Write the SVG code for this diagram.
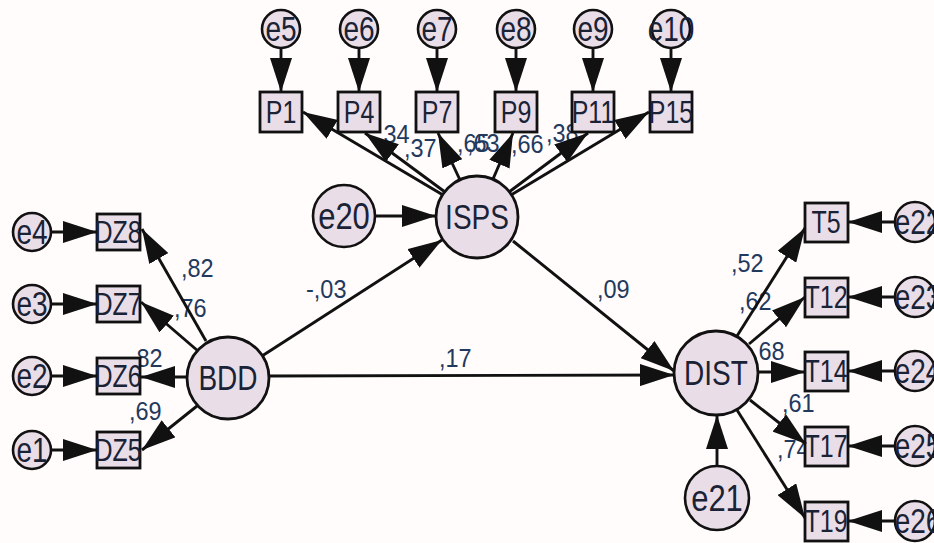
<svg xmlns="http://www.w3.org/2000/svg" width="934" height="543" viewBox="0 0 934 543">
  <style>
    .bg { fill: #fffcfb; }
    .lat { fill: #e9dde8; stroke: #111; stroke-width: 2.8; }
    .obs { fill: #e9dde8; stroke: #111; stroke-width: 2.8; }
    .err { fill: #e9dde8; stroke: #111; stroke-width: 2.6; }
    .path { fill: none; stroke: #111; stroke-width: 2.9; marker-end: url(#head); }
    text { font-family: "Liberation Sans", Arial, sans-serif; text-anchor: middle; fill: #1a2236; }
    .tl { font-size: 28px; }
    .to { font-size: 25px; }
    .te { font-size: 28px; }
    .tE { font-size: 31px; }
    .coef { font-size: 23.5px; text-anchor: start; fill: #22395e; }
  </style>
  <defs>
    <marker id="head" markerUnits="userSpaceOnUse" markerWidth="34" markerHeight="22" refX="34" refY="11" orient="auto">
      <path d="M0,0 L34,11 L0,22 z" fill="#111"/>
    </marker>
  </defs>

  <rect class="bg" x="0" y="0" width="934" height="543"/>

  <!-- standardized coefficients (text is drawn slightly tall) -->
  <g id="coefficients">
    <text class="coef" transform="translate(181 277) scale(1 1.12)">,82</text>
    <text class="coef" transform="translate(174 317) scale(1 1.12)">,76</text>
    <text class="coef" transform="translate(130 367) scale(1 1.12)">,82</text>
    <text class="coef" transform="translate(129 420) scale(1 1.12)">,69</text>
    <text class="coef" transform="translate(306 298) scale(1 1.12)">-,03</text>
    <text class="coef" transform="translate(597 298) scale(1 1.12)">,09</text>
    <text class="coef" transform="translate(439 367) scale(1 1.12)">,17</text>
    <text class="coef" transform="translate(377 143) scale(1 1.12)">,34</text>
    <text class="coef" transform="translate(404 157) scale(1 1.12)">,37</text>
    <text class="coef" transform="translate(457 152) scale(1 1.12)">,65</text>
    <text class="coef" transform="translate(467 152) scale(1 1.12)">,63</text>
    <text class="coef" transform="translate(511 153) scale(1 1.12)">,66</text>
    <text class="coef" transform="translate(546 142) scale(1 1.12)">,38</text>
    <text class="coef" transform="translate(731 272) scale(1 1.12)">,52</text>
    <text class="coef" transform="translate(739 310) scale(1 1.12)">,62</text>
    <text class="coef" transform="translate(752 360) scale(1 1.12)">,68</text>
    <text class="coef" transform="translate(782 412) scale(1 1.12)">,61</text>
    <text class="coef" transform="translate(777 458) scale(1 1.12)">,74</text>
  </g>

  <!-- latent variables -->
  <g id="ISPS"><circle class="lat" cx="477" cy="217" r="41"/><text class="tl" transform="translate(477 229) scale(1 1.22)">ISPS</text></g>
  <g id="BDD"><circle class="lat" cx="228" cy="378" r="41"/><text class="tl" transform="translate(228 390) scale(1 1.22)">BDD</text></g>
  <g id="DIST"><circle class="lat" cx="716" cy="373" r="42"/><text class="tl" transform="translate(716 385) scale(1 1.22)">DIST</text></g>

  <!-- disturbances -->
  <g id="e20"><circle class="err" cx="344" cy="216" r="31"/><text class="tE" transform="translate(344 229) scale(1 1.22)">e20</text></g>
  <g id="e21"><circle class="err" cx="717" cy="498" r="32"/><text class="tE" transform="translate(717 511) scale(1 1.22)">e21</text></g>

  <!-- ISPS indicators -->
  <g id="P1"><rect class="obs" x="260" y="92" width="42" height="40"/><text class="to" transform="translate(281 123) scale(1 1.22)">P1</text></g>
  <g id="P4"><rect class="obs" x="338" y="92" width="42" height="40"/><text class="to" transform="translate(359 123) scale(1 1.22)">P4</text></g>
  <g id="P7"><rect class="obs" x="416" y="92" width="42" height="40"/><text class="to" transform="translate(437 123) scale(1 1.22)">P7</text></g>
  <g id="P9"><rect class="obs" x="495" y="92" width="42" height="40"/><text class="to" transform="translate(516 123) scale(1 1.22)">P9</text></g>
  <g id="P11"><rect class="obs" x="572" y="92" width="42" height="40"/><text class="to" transform="translate(593 123) scale(1 1.22)">P11</text></g>
  <g id="P15"><rect class="obs" x="650" y="92" width="42" height="40"/><text class="to" transform="translate(671 123) scale(1 1.22)">P15</text></g>

  <g id="e5"><circle class="err" cx="281" cy="29" r="19"/><text class="te" transform="translate(281 41) scale(1 1.22)">e5</text></g>
  <g id="e6"><circle class="err" cx="359" cy="29" r="19"/><text class="te" transform="translate(359 41) scale(1 1.22)">e6</text></g>
  <g id="e7"><circle class="err" cx="437" cy="29" r="19"/><text class="te" transform="translate(437 41) scale(1 1.22)">e7</text></g>
  <g id="e8"><circle class="err" cx="516" cy="29" r="19"/><text class="te" transform="translate(516 41) scale(1 1.22)">e8</text></g>
  <g id="e9"><circle class="err" cx="593" cy="29" r="19"/><text class="te" transform="translate(593 41) scale(1 1.22)">e9</text></g>
  <g id="e10"><circle class="err" cx="671" cy="29" r="19"/><text class="te" transform="translate(671 41) scale(1 1.22)">e10</text></g>

  <!-- BDD indicators -->
  <g id="DZ8"><rect class="obs" x="97" y="214" width="43" height="36"/><text class="to" transform="translate(118 243) scale(1 1.22)">DZ8</text></g>
  <g id="DZ7"><rect class="obs" x="97" y="286" width="43" height="36"/><text class="to" transform="translate(118 315) scale(1 1.22)">DZ7</text></g>
  <g id="DZ6"><rect class="obs" x="97" y="358" width="43" height="36"/><text class="to" transform="translate(118 387) scale(1 1.22)">DZ6</text></g>
  <g id="DZ5"><rect class="obs" x="97" y="432" width="43" height="36"/><text class="to" transform="translate(118 461) scale(1 1.22)">DZ5</text></g>

  <g id="e4"><circle class="err" cx="32" cy="232" r="19"/><text class="te" transform="translate(32 244) scale(1 1.22)">e4</text></g>
  <g id="e3"><circle class="err" cx="32" cy="304" r="19"/><text class="te" transform="translate(32 316) scale(1 1.22)">e3</text></g>
  <g id="e2"><circle class="err" cx="32" cy="376" r="19"/><text class="te" transform="translate(32 388) scale(1 1.22)">e2</text></g>
  <g id="e1"><circle class="err" cx="32" cy="450" r="19"/><text class="te" transform="translate(32 462) scale(1 1.22)">e1</text></g>

  <!-- DIST indicators -->
  <g id="T5"><rect class="obs" x="805" y="203" width="43" height="39"/><text class="to" transform="translate(826 233) scale(1 1.22)">T5</text></g>
  <g id="T12"><rect class="obs" x="805" y="278" width="43" height="39"/><text class="to" transform="translate(826 308) scale(1 1.22)">T12</text></g>
  <g id="T14"><rect class="obs" x="805" y="352" width="43" height="39"/><text class="to" transform="translate(826 382) scale(1 1.22)">T14</text></g>
  <g id="T17"><rect class="obs" x="805" y="427" width="43" height="39"/><text class="to" transform="translate(826 457) scale(1 1.22)">T17</text></g>
  <g id="T19"><rect class="obs" x="805" y="502" width="43" height="39"/><text class="to" transform="translate(826 532) scale(1 1.22)">T19</text></g>

  <g id="e22"><circle class="err" cx="915" cy="222" r="20"/><text class="te" transform="translate(918 234) scale(1 1.22)">e22</text></g>
  <g id="e23"><circle class="err" cx="915" cy="297" r="20"/><text class="te" transform="translate(918 309) scale(1 1.22)">e23</text></g>
  <g id="e24"><circle class="err" cx="915" cy="371" r="20"/><text class="te" transform="translate(918 383) scale(1 1.22)">e24</text></g>
  <g id="e25"><circle class="err" cx="915" cy="446" r="20"/><text class="te" transform="translate(918 458) scale(1 1.22)">e25</text></g>
  <g id="e26"><circle class="err" cx="915" cy="521" r="20"/><text class="te" transform="translate(918 533) scale(1 1.22)">e26</text></g>

  <!-- connectors -->
  <g id="connectors">
    <!-- structural paths -->
    <line class="path" x1="262" y1="356" x2="442" y2="240"/>
    <line class="path" x1="513" y1="241" x2="674" y2="371"/>
    <line class="path" x1="269" y1="376" x2="674" y2="375"/>
    <line class="path" x1="375" y1="216" x2="436" y2="216"/>
    <line class="path" x1="717" y1="466" x2="717" y2="415"/>

    <!-- ISPS loadings -->
    <line class="path" x1="443" y1="195" x2="303" y2="112"/>
    <line class="path" x1="445" y1="192" x2="365" y2="133"/>
    <line class="path" x1="460" y1="180" x2="438" y2="133"/>
    <line class="path" x1="493" y1="179" x2="513" y2="133"/>
    <line class="path" x1="509" y1="192" x2="588" y2="133"/>
    <line class="path" x1="511" y1="195" x2="649" y2="112"/>

    <!-- BDD loadings -->
    <line class="path" x1="206" y1="341" x2="142" y2="229"/>
    <line class="path" x1="198" y1="351" x2="141" y2="302"/>
    <line class="path" x1="187" y1="377" x2="141" y2="377"/>
    <line class="path" x1="197" y1="406" x2="142" y2="450"/>

    <!-- DIST loadings -->
    <line class="path" x1="737" y1="336" x2="805" y2="228"/>
    <line class="path" x1="749" y1="344" x2="805" y2="297"/>
    <line class="path" x1="758" y1="372" x2="805" y2="372"/>
    <line class="path" x1="750" y1="400" x2="806" y2="444"/>
    <line class="path" x1="737" y1="410" x2="805" y2="518"/>

    <!-- measurement errors -->
    <line class="path" x1="281" y1="48" x2="281" y2="92"/>
    <line class="path" x1="359" y1="48" x2="359" y2="92"/>
    <line class="path" x1="437" y1="48" x2="437" y2="92"/>
    <line class="path" x1="516" y1="48" x2="516" y2="92"/>
    <line class="path" x1="593" y1="48" x2="593" y2="92"/>
    <line class="path" x1="671" y1="48" x2="671" y2="92"/>

    <line class="path" x1="51" y1="232" x2="97" y2="232"/>
    <line class="path" x1="51" y1="304" x2="97" y2="304"/>
    <line class="path" x1="51" y1="376" x2="97" y2="376"/>
    <line class="path" x1="51" y1="450" x2="97" y2="450"/>

    <line class="path" x1="895" y1="222" x2="848" y2="222"/>
    <line class="path" x1="895" y1="297" x2="848" y2="297"/>
    <line class="path" x1="895" y1="371" x2="848" y2="371"/>
    <line class="path" x1="895" y1="446" x2="848" y2="446"/>
    <line class="path" x1="895" y1="521" x2="848" y2="521"/>
  </g>
</svg>
